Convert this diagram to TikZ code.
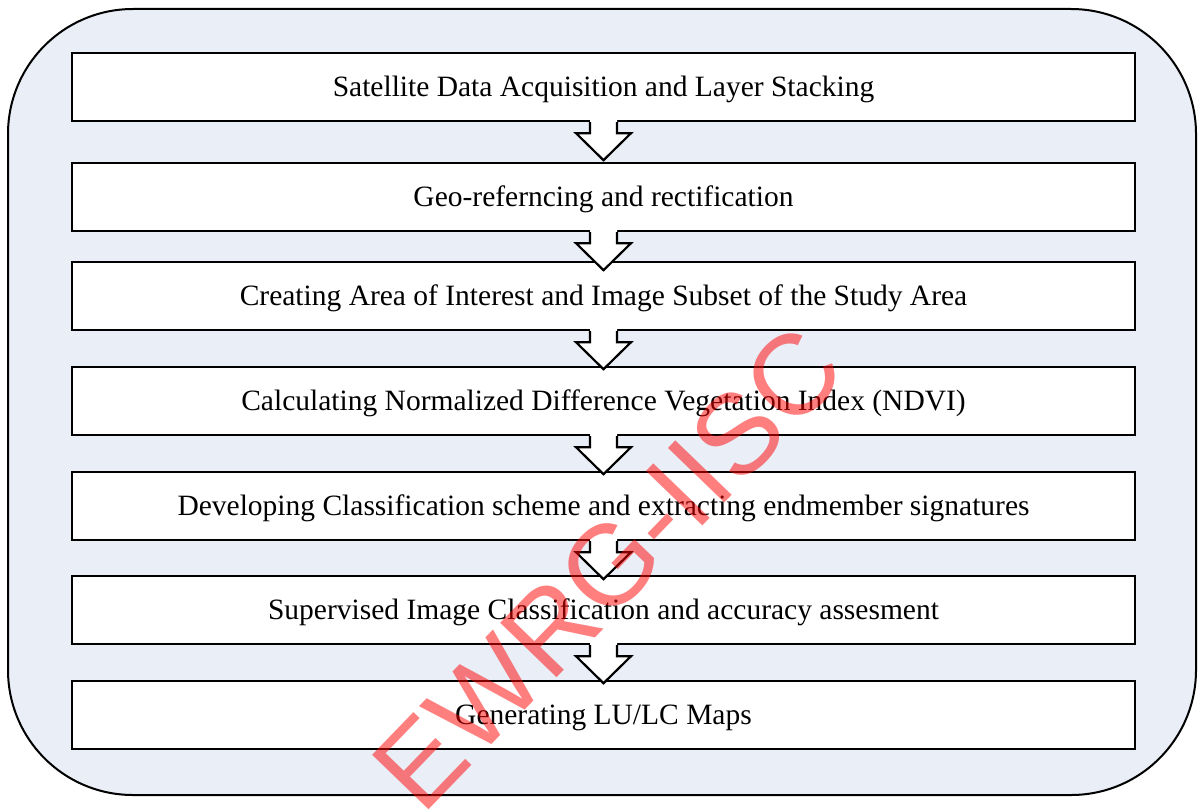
\documentclass[tikz,border=0pt]{standalone}
\usepackage{fontspec}
\setmainfont{Liberation Serif}
\newfontfamily\wmfont{Liberation Sans}
\usetikzlibrary{calc}
\definecolor{bgblue}{HTML}{E9EEF7}
\tikzset{
  stepbox/.style={draw=black, line width=2.4pt, fill=white, minimum width=1063pt, minimum height=68pt, inner sep=0pt, text height=20pt, text depth=2pt, font=\fontsize{29.5}{32}\selectfont},
  outerframe/.style={draw=black, line width=2pt, fill=bgblue, rounded corners=125pt},
  arrowline/.style={draw=black, line width=2.2pt, line join=miter},
  watermark/.style={text=red, text opacity=0.5, font=\wmfont\fontsize{114}{114}\selectfont, inner sep=0pt}
}
\newcommand\flowarrow[1]{%
  \path[fill=white] ($(#1.south)+(-13.5,-2)$) -- ++(0,13) -- ++(-14,0) -- ++(27.5,27) -- ++(27.5,-27) -- ++(-14,0) -- ++(0,-13) -- cycle;
  \draw[arrowline] ($(#1.south)+(-13.5,0)$) -- ++(0,11) -- ++(-14,0) -- ++(27.5,27) -- ++(27.5,-27) -- ++(-14,0) -- ++(0,-11);}
\begin{document}
\begin{tikzpicture}[x=1pt,y=-1pt]
\useasboundingbox (0,0) rectangle (1198,808);
\path[outerframe] (8,9) rectangle (1196,795);
\node[stepbox] (b1) at (603.5,87) {Satellite Data Acquisition and Layer Stacking};
\node[stepbox] (b2) at (603.5,197) {Geo-referncing and rectification};
\node[stepbox] (b3) at (603.5,296) {Creating Area of Interest and Image Subset of the Study Area};
\node[stepbox] (b4) at (603.5,401) {Calculating Normalized Difference Vegetation Index (NDVI)};
\node[stepbox] (b5) at (603.5,506) {Developing Classification scheme and extracting endmember signatures};
\node[stepbox] (b6) at (603.5,610) {Supervised Image Classification and accuracy assesment};
\node[stepbox] (b7) at (603.5,715) {Generating LU/LC Maps};
\flowarrow{b1}
\flowarrow{b2}
\flowarrow{b3}
\flowarrow{b4}
\flowarrow{b5}
\flowarrow{b6}
\node[watermark, rotate=46] (wm) at (608,568) {EWRG-IISC};
\end{tikzpicture}
\end{document}
